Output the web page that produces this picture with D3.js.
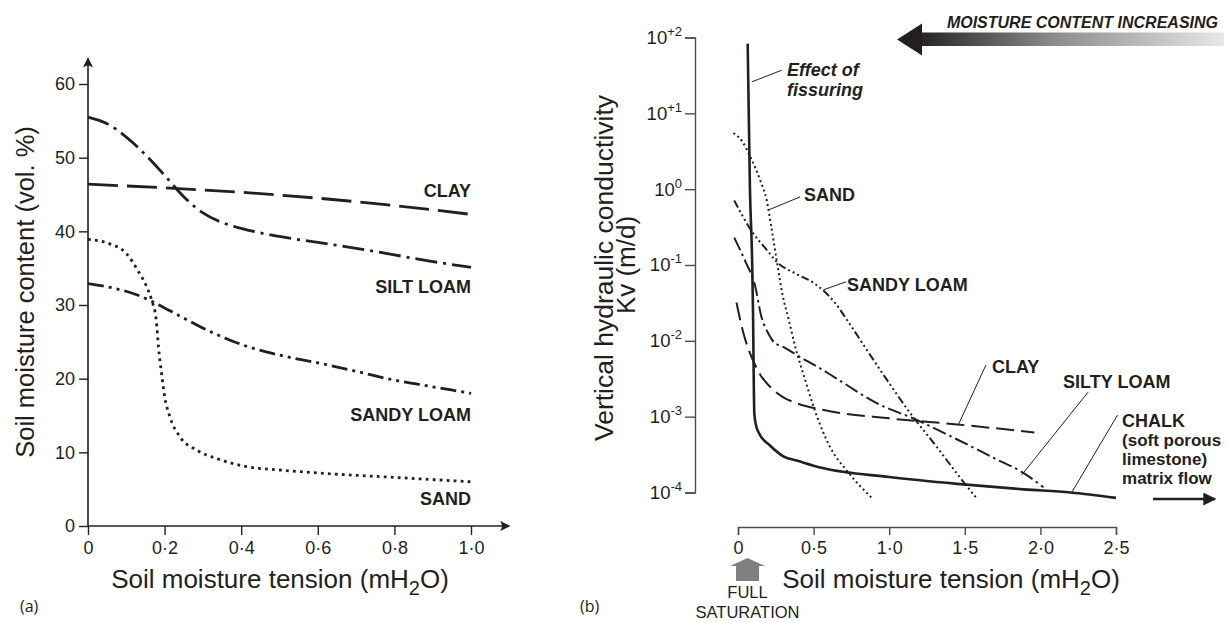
<!DOCTYPE html>
<html>
<head>
<meta charset="utf-8">
<script src="https://cdn.jsdelivr.net/npm/d3@7"></script>
<style>
  body { margin: 0; background: #fff; }
  svg { display: block; font-family: "Liberation Sans", Arial, sans-serif; }
</style>
</head>
<body>
<svg id="chart" width="1230" height="623"></svg>
<script>
// ---- panel (a): soil moisture content (vol. %) vs tension (mH2O)
const tensionTicksA = [0, 0.2, 0.4, 0.6, 0.8, 1.0];
const contentTicksA = [0, 10, 20, 30, 40, 50, 60];

const clayA = [[0, 46.4], [0.2, 45.9], [0.4, 45.3], [0.6, 44.5], [0.8, 43.5], [1.0, 42.3]];
const siltLoamA = [[0, 55.5], [0.05, 54.6], [0.1, 52.8], [0.15, 50.4], [0.2, 47.6], [0.25, 44.7],
  [0.3, 42.5], [0.35, 41.2], [0.4, 40.4], [0.5, 39.3], [0.6, 38.5], [0.7, 37.7], [0.8, 36.8],
  [0.9, 35.9], [1.0, 35.1]];
const sandyLoamA = [[0, 32.9], [0.066, 32.3], [0.127, 31.4], [0.17, 30.4], [0.24, 28.5], [0.327, 26.2],
  [0.414, 24.4], [0.5, 23.2], [0.614, 22.0], [0.7, 21.0], [0.8, 19.8], [0.9, 18.9], [1.0, 18.0]];
const sandA = [[0, 38.9], [0.057, 38.3], [0.1, 37.0], [0.13, 34.7], [0.153, 32.5], [0.166, 30.7], [0.178, 28],
  [0.184, 24.3], [0.192, 20.7], [0.2, 17.6], [0.214, 14.8], [0.24, 12.1], [0.284, 10.3], [0.345, 9.0],
  [0.414, 8.05], [0.5, 7.6], [0.6, 7.2], [0.8, 6.6], [1.0, 6.0]];

const labelsA = [
  { text: "CLAY", x: 1.0, y: 44.7 },
  { text: "SILT LOAM", x: 1.0, y: 31.6 },
  { text: "SANDY LOAM", x: 1.0, y: 14.2 },
  { text: "SAND", x: 1.0, y: 2.85 }
];

// ---- panel (b): vertical hydraulic conductivity Kv (m/d) vs tension (mH2O)
const tensionTicksB = [0, 0.5, 1.0, 1.5, 2.0, 2.5];
const kvTicksB = [1e2, 1e1, 1, 1e-1, 1e-2, 1e-3, 1e-4];
const kvExponents = ["+2", "+1", "0", "-1", "-2", "-3", "-4"];

const chalkB = [[0.064, 83], [0.079, 1], [0.094, 0.1], [0.1, 0.019], [0.104, 0.0032], [0.108, 0.0011],
  [0.118, 0.00079], [0.14, 0.0006], [0.21, 0.00042], [0.3, 0.0003], [0.4, 0.00026], [0.56, 0.00021],
  [1.0, 0.00016], [1.45, 0.00013], [1.89, 0.00011], [2.2, 0.0001], [2.5, 0.000085]];
const sandB = [[-0.03, 5.5], [0.03, 4.2], [0.084, 2.6], [0.15, 1.26], [0.19, 0.71], [0.22, 0.32],
  [0.256, 0.115], [0.295, 0.04], [0.333, 0.02], [0.375, 0.0089], [0.443, 0.0031], [0.509, 0.0012],
  [0.608, 0.0004], [0.719, 0.000195], [0.89, 0.000083]];
const sandyLoamB = [[-0.025, 0.71], [0.09, 0.28], [0.2, 0.15], [0.256, 0.11], [0.388, 0.076], [0.5, 0.058],
  [0.564, 0.046], [0.64, 0.032], [0.72, 0.019], [0.85, 0.0077], [0.983, 0.0031], [1.138, 0.00112],
  [1.314, 0.0004], [1.446, 0.00018], [1.58, 0.000083]];
const siltyLoamB = [[-0.025, 0.23], [0.05, 0.11], [0.11, 0.056], [0.157, 0.02], [0.2, 0.0126], [0.24, 0.0095],
  [0.3, 0.0083], [0.4, 0.0063], [0.53, 0.0045], [0.65, 0.0032], [0.92, 0.0015], [1.18, 0.00091],
  [1.45, 0.0005], [1.7, 0.00028], [1.89, 0.00018], [2.02, 0.000117]];
const clayB = [[-0.01, 0.032], [0.03, 0.014], [0.054, 0.0095], [0.107, 0.0051], [0.15, 0.0035], [0.21, 0.0025],
  [0.3, 0.0018], [0.39, 0.0015], [0.56, 0.00123], [1.0, 0.00095], [1.45, 0.00079], [1.96, 0.00062]];

const labelsB = [
  { lines: ["Effect of", "fissuring"], x: 0.324, y: 30.6, italic: true },
  { lines: ["SAND"], x: 0.437, y: 0.69 },
  { lines: ["SANDY LOAM"], x: 0.721, y: 0.045 },
  { lines: ["CLAY"], x: 1.68, y: 0.0038 },
  { lines: ["SILTY LOAM"], x: 2.15, y: 0.0024 },
  { lines: ["CHALK", "(soft porous", "limestone)", "matrix flow"], x: 2.54, y: 0.00074 }
];
const leadersB = [
  [[0.091, 26], [0.289, 37]],
  [[0.2, 0.53], [0.41, 0.79]],
  [[0.564, 0.047], [0.715, 0.06]],
  [[1.457, 0.00078], [1.64, 0.0048]],
  [[1.876, 0.00017], [2.315, 0.0021]],
  [[2.207, 0.0001], [2.51, 0.00105]]
];
const chalkArrowB = [[2.745, 0.000082], [3.155, 0.000082]];
const saturationX = 0.063;

const ink = "#231f20";
const svg = d3.select("#chart");

const fmtDot = d => d === 0 ? "0" : d3.format(".1f")(d).replace(".", "·");

//* scales
const xA = d3.scaleLinear().domain([0, 1]).range([88, 471]);
const yA = d3.scaleLinear().domain([0, 60]).range([526, 84]);
const xB = d3.scaleLinear().domain([0, 2.5]).range([738, 1116]);
const yB = d3.scaleLog().domain([1e-4, 1e2]).range([492.5, 37.5]);

const defs = svg.append("defs");
defs.append("marker")
  .attr("id", "arrowA")
  .attr("viewBox", "0 0 10 10")
  .attr("refX", 9).attr("refY", 5)
  .attr("markerUnits", "userSpaceOnUse")
  .attr("markerWidth", 12).attr("markerHeight", 10)
  .attr("orient", "auto")
  .append("path").attr("d", "M0,0L10,5L0,10L2,5z").attr("fill", ink);
defs.append("marker")
  .attr("id", "arrowB")
  .attr("viewBox", "0 0 10 10")
  .attr("refX", 9).attr("refY", 5)
  .attr("markerUnits", "userSpaceOnUse")
  .attr("markerWidth", 15).attr("markerHeight", 13)
  .attr("orient", "auto")
  .append("path").attr("d", "M0,0L10,5L0,10z").attr("fill", ink);
const grad = defs.append("linearGradient").attr("id", "moist")
  .attr("gradientUnits", "userSpaceOnUse")
  .attr("x1", 915).attr("x2", 1225).attr("y1", 0).attr("y2", 0);
grad.append("stop").attr("offset", 0).attr("stop-color", "#231f20");
grad.append("stop").attr("offset", 0.45).attr("stop-color", "#8a8c8e");
grad.append("stop").attr("offset", 1).attr("stop-color", "#e8e8e8");

function styleAxis(g, color, size) {
  g.attr("font-family", null).attr("font-size", size);
  g.selectAll("line").attr("stroke", color).attr("stroke-width", 1.4);
  g.selectAll(".domain").attr("stroke", color).attr("stroke-width", 1.4);
  g.selectAll("text").attr("fill", ink);
}

// ================= panel (a)
const gxA = svg.append("g")
  .attr("transform", `translate(0,${yA(0)})`)
  .call(d3.axisBottom(xA).tickValues(tensionTicksA).tickFormat(fmtDot).tickSize(9).tickSizeOuter(0).tickPadding(6))
  .call(g => styleAxis(g, ink, 18));
gxA.select(".domain").remove();

const gyA = svg.append("g")
  .attr("transform", `translate(${xA(0)},0)`)
  .call(d3.axisLeft(yA).tickValues(contentTicksA).tickSize(9).tickSizeOuter(0).tickPadding(4))
  .call(g => styleAxis(g, ink, 18));
gyA.select(".domain").remove();

svg.append("line")
  .attr("x1", xA(0)).attr("x2", xA(1.1)).attr("y1", yA(0)).attr("y2", yA(0))
  .attr("stroke", ink).attr("stroke-width", 1.6).attr("marker-end", "url(#arrowA)");
svg.append("line")
  .attr("x1", xA(0)).attr("x2", xA(0)).attr("y1", yA(0)).attr("y2", yA(63.5))
  .attr("stroke", ink).attr("stroke-width", 1.6).attr("marker-end", "url(#arrowA)");

const lineA = d3.line().x(d => xA(d[0])).y(d => yA(d[1])).curve(d3.curveMonotoneX);
const seriesA = [
  { data: clayA, dash: "30,9" },
  { data: siltLoamA, dash: "22,6,3,6" },
  { data: sandyLoamA, dash: "16,5,3,5,3,5" },
  { data: sandA, dash: "2.8,4.2" }
];
svg.append("g").selectAll("path")
  .data(seriesA)
  .join("path")
  .attr("d", d => lineA(d.data))
  .attr("fill", "none")
  .attr("stroke", ink)
  .attr("stroke-width", 2.8)
  .attr("stroke-dasharray", d => d.dash);

svg.append("g").selectAll("text")
  .data(labelsA)
  .join("text")
  .attr("x", d => xA(d.x))
  .attr("y", d => yA(d.y))
  .attr("text-anchor", "end")
  .attr("font-size", 18)
  .attr("font-weight", "bold")
  .attr("fill", ink)
  .text(d => d.text);

svg.append("text")
  .attr("transform", `translate(34,292) rotate(-90)`)
  .attr("text-anchor", "middle")
  .attr("font-size", 25.5)
  .attr("fill", ink)
  .text("Soil moisture content (vol. %)");

function tensionTitle(cx) {
  const t = svg.append("text")
    .attr("x", cx).attr("y", 588)
    .attr("text-anchor", "middle")
    .attr("font-size", 26)
    .attr("fill", ink);
  t.append("tspan").text("Soil moisture tension (mH");
  t.append("tspan").attr("dy", 7).attr("font-size", 20).text("2");
  t.append("tspan").attr("dy", -7).text("O)");
}
tensionTitle(280);

svg.append("text")
  .attr("x", 20).attr("y", 612)
  .attr("font-family", "'Open Sans', 'Noto Sans', sans-serif")
  .attr("font-size", 16)
  .attr("fill", ink)
  .text("(a)");

// ================= panel (b)
const gxB = svg.append("g")
  .attr("transform", "translate(0,527)")
  .call(d3.axisBottom(xB).tickValues(tensionTicksB).tickFormat(fmtDot).tickSize(8).tickSizeOuter(8).tickPadding(6))
  .call(g => styleAxis(g, "#4d4d4f", 18));

const gyB = svg.append("g")
  .attr("transform", "translate(695,0)")
  .call(d3.axisLeft(yB).tickValues(kvTicksB).tickFormat("").tickSize(10).tickSizeOuter(10))
  .call(g => styleAxis(g, "#4d4d4f", 18.5));
gyB.selectAll(".tick").each(function (d, i) {
  const t = d3.select(this).append("text")
    .attr("x", -13).attr("y", 0).attr("dy", "0.32em")
    .attr("text-anchor", "end")
    .attr("fill", ink);
  t.append("tspan").text("10");
  t.append("tspan").attr("dy", -8).attr("font-size", 13).text(kvExponents[i]);
});

const lineB = d3.line().x(d => xB(d[0])).y(d => yB(d[1])).curve(d3.curveMonotoneX);
const seriesB = [
  { data: clayB, dash: "18,7", w: 2 },
  { data: siltyLoamB, dash: "14,4,2.5,4", w: 2 },
  { data: sandyLoamB, dash: "8,3,2,3,2,3,2,3", w: 2 },
  { data: sandB, dash: "2,3", w: 2 },
  { data: chalkB, dash: null, w: 2.6 }
];
svg.append("g").selectAll("path")
  .data(seriesB)
  .join("path")
  .attr("d", d => lineB(d.data))
  .attr("fill", "none")
  .attr("stroke", ink)
  .attr("stroke-width", d => d.w)
  .attr("stroke-dasharray", d => d.dash);

svg.append("g").selectAll("line")
  .data(leadersB)
  .join("line")
  .attr("x1", d => xB(d[0][0])).attr("y1", d => yB(d[0][1]))
  .attr("x2", d => xB(d[1][0])).attr("y2", d => yB(d[1][1]))
  .attr("stroke", ink).attr("stroke-width", 1);

svg.append("line")
  .attr("x1", xB(chalkArrowB[0][0])).attr("y1", yB(chalkArrowB[0][1]))
  .attr("x2", xB(chalkArrowB[1][0])).attr("y2", yB(chalkArrowB[1][1]))
  .attr("stroke", ink).attr("stroke-width", 2.4).attr("marker-end", "url(#arrowB)");

svg.append("g").selectAll("text")
  .data(labelsB)
  .join("text")
  .attr("x", d => xB(d.x))
  .attr("y", d => yB(d.y))
  .attr("font-size", 18)
  .attr("font-weight", "bold")
  .attr("font-style", d => d.italic ? "italic" : null)
  .attr("fill", ink)
  .each(function (d) {
    d3.select(this).selectAll("tspan")
      .data(d.lines)
      .join("tspan")
      .attr("x", xB(d.x))
      .attr("dy", (l, i) => i === 0 ? 0 : (d.italic ? 20 : 19))
      .attr("font-size", (l, i) => i === 0 ? 18 : (d.italic ? 18 : 17))
      .text(l => l);
  });

svg.append("text")
  .attr("transform", `translate(613,268) rotate(-90)`)
  .attr("text-anchor", "middle")
  .attr("font-size", 26.5)
  .attr("fill", ink)
  .text("Vertical hydraulic conductivity");
svg.append("text")
  .attr("transform", `translate(635,265) rotate(-90)`)
  .attr("text-anchor", "middle")
  .attr("font-size", 26)
  .attr("fill", ink)
  .text("Kv (m/d)");

tensionTitle(951);

// full saturation marker
const sx = xB(saturationX);
svg.append("path")
  .attr("d", `M${sx},558 L${sx + 17.5},566 L${sx + 11.5},566 L${sx + 11.5},581 L${sx - 11.5},581 L${sx - 11.5},566 L${sx - 17.5},566 Z`)
  .attr("fill", "#808082");
svg.append("text")
  .attr("x", sx).attr("y", 598)
  .attr("text-anchor", "middle").attr("font-size", 16.5).attr("fill", ink)
  .text("FULL");
svg.append("text")
  .attr("x", sx).attr("y", 618)
  .attr("text-anchor", "middle").attr("font-size", 16.5).attr("fill", ink)
  .text("SATURATION");

svg.append("text")
  .attr("x", 580).attr("y", 612)
  .attr("font-family", "'Open Sans', 'Noto Sans', sans-serif")
  .attr("font-size", 16)
  .attr("fill", ink)
  .text("(b)");

// moisture content arrow
svg.append("rect")
  .attr("x", 918).attr("y", 32.5).attr("width", 306).attr("height", 13.5)
  .attr("fill", "url(#moist)");
svg.append("path")
  .attr("d", "M897,39.5 L922,23.5 L922,55.5 Z")
  .attr("fill", ink);
svg.append("text")
  .attr("x", 1218).attr("y", 27.5)
  .attr("text-anchor", "end")
  .attr("font-size", 16)
  .attr("font-weight", "bold")
  .attr("font-style", "italic")
  .attr("fill", ink)
  .text("MOISTURE CONTENT INCREASING");
</script>
</body>
</html>
